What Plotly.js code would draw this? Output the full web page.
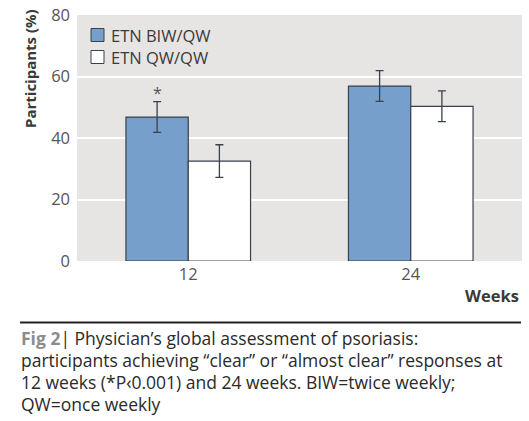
<!DOCTYPE html>
<html>
<head>
<meta charset="utf-8">
<script src="https://cdn.plot.ly/plotly-3.0.1.min.js"></script>
<style>html,body{margin:0;padding:0;background:#fff;}#chart{width:529px;height:421px;}</style>
</head>
<body>
<div id="chart"></div>
<script>
const weeks = ["12", "24"];
const biwValues = [46.8, 56.9];
const biwErrors = [5.0, 5.0];
const qwValues = [32.5, 50.3];
const qwErrors = [5.3, 5.0];
const seriesNames = ["ETN BIW/QW", "ETN QW/QW"];
const seriesColors = ["#769fcc", "#ffffff"];
const yTicks = [0, 20, 40, 60, 80];
const captionLines = [
  '<span style="color:#8c8c8c"><b>Fig 2</b></span>| Physician’s global assessment of psoriasis:',
  'participants achieving “clear” or “almost clear” responses at',
  '12 weeks (*P‹0.001) and 24 weeks. BIW=twice weekly;',
  'QW=once weekly'
];

const W = 529, H = 421;
const M = {l: 77, r: 7, t: 15, b: 160};
const pw = W - M.l - M.r, ph = H - M.t - M.b;
const px = x => (x - M.l) / pw;
const py = y => (H - M.b - y) / ph;

const FONT = "'Open Sans', sans-serif";
const edge = '#3b404b';

const traces = [
  {
    type: 'bar', name: seriesNames[0], x: weeks, y: biwValues,
    marker: {color: seriesColors[0], line: {color: edge, width: 1.2}},
    error_y: {type: 'data', array: biwErrors, visible: true, color: edge, thickness: 1.3, width: 4}
  },
  {
    type: 'bar', name: seriesNames[1], x: weeks, y: qwValues,
    marker: {color: seriesColors[1], line: {color: edge, width: 1.2}},
    error_y: {type: 'data', array: qwErrors, visible: true, color: edge, thickness: 1.3, width: 4}
  }
];

const annotations = [
  {xref: 'paper', yref: 'paper', x: px(30), y: py(69), text: '<b>Participants (%)</b>', textangle: -90,
   showarrow: false, xanchor: 'center', yanchor: 'middle', font: {family: FONT, size: 15, color: '#3a3a3a'}},
  {xref: 'paper', yref: 'paper', x: px(521), y: py(295), text: '<b>Weeks</b>',
   showarrow: false, xanchor: 'right', yanchor: 'middle', font: {family: FONT, size: 16.5, color: '#3a3a3a'}},
  {xref: 'x', yref: 'y', x: 0, y: biwValues[0] + biwErrors[0], xshift: -31, yshift: 9, text: '*',
   showarrow: false, xanchor: 'center', yanchor: 'middle', font: {family: FONT, size: 16, color: '#555'}}
];
const captionY = [338, 360, 382, 404];
captionLines.forEach((t, i) => annotations.push({
  xref: 'paper', yref: 'paper', x: px(19), y: py(captionY[i]), text: t, showarrow: false,
  xanchor: 'left', yanchor: 'middle', align: 'left', font: {family: FONT, size: 17.5, color: '#2a2a2a'}
}));

const shapes = [
  {type: 'line', xref: 'paper', yref: 'paper', x0: px(20), x1: px(521), y0: py(322.5), y1: py(322.5),
   line: {color: '#222222', width: 2.2}}
];
const legendRowY = [35, 57];
seriesNames.forEach((name, i) => {
  shapes.push({type: 'rect', xref: 'paper', yref: 'paper', x0: px(91), x1: px(104),
               y0: py(legendRowY[i] + 6.5), y1: py(legendRowY[i] - 6.5),
               fillcolor: seriesColors[i], line: {color: edge, width: 1}});
  annotations.push({xref: 'paper', yref: 'paper', x: px(109), y: py(legendRowY[i]), text: name,
                    showarrow: false, xanchor: 'left', yanchor: 'middle',
                    font: {family: FONT, size: 16.5, color: '#3a3a3a'}});
});

const layout = {
  width: W, height: H, margin: M,
  paper_bgcolor: '#ffffff', plot_bgcolor: '#e7e5e4',
  barmode: 'group', bargap: 0.44, bargroupgap: 0,
  showlegend: false,
  xaxis: {type: 'category', range: [-0.5, 1.5], showgrid: false, zeroline: false, showline: false, ticks: '',
          tickfont: {family: FONT, size: 16.5, color: '#555'}, ticklabelstandoff: 1},
  yaxis: {range: [0, 80], tickvals: yTicks, showgrid: true, gridcolor: '#ffffff', gridwidth: 2,
          zeroline: false, showline: false, ticks: '', ticklabelstandoff: 6,
          tickfont: {family: FONT, size: 16.5, color: '#555'}},
  shapes: shapes,
  annotations: annotations
};

Plotly.newPlot('chart', traces, layout, {staticPlot: true, displayModeBar: false});
</script>
</body>
</html>
